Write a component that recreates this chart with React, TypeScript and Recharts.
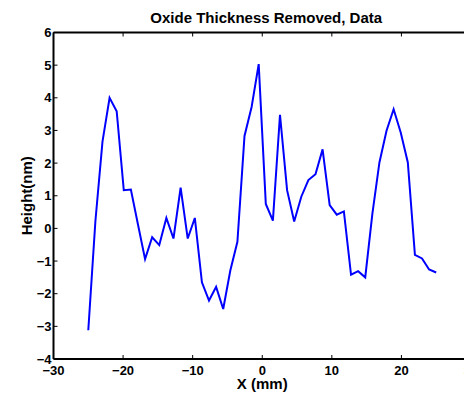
import { LineChart, Line, XAxis, YAxis } from "recharts";

// profile sampled on 50 evenly spaced positions between -25 and 25 mm
const xPositions = [
  -25, -23.98, -22.96, -21.94, -20.92, -19.9, -18.88, -17.86, -16.84, -15.82,
  -14.8, -13.78, -12.76, -11.73, -10.71, -9.69, -8.67, -7.65, -6.63, -5.61,
  -4.59, -3.57, -2.55, -1.53, -0.51, 0.51, 1.53, 2.55, 3.57, 4.59,
  5.61, 6.63, 7.65, 8.67, 9.69, 10.71, 11.73, 12.76, 13.78, 14.8,
  15.82, 16.84, 17.86, 18.88, 19.9, 20.92, 21.94, 22.96, 23.98, 25,
];

const heights = [
  -3.12, 0.22, 2.66, 4.0, 3.59, 1.17, 1.19, 0.12, -0.94, -0.27,
  -0.51, 0.32, -0.31, 1.25, -0.31, 0.32, -1.65, -2.21, -1.79, -2.47,
  -1.29, -0.41, 2.83, 3.72, 5.03, 0.75, 0.24, 3.48, 1.17, 0.21,
  0.97, 1.48, 1.66, 2.42, 0.71, 0.42, 0.52, -1.42, -1.31, -1.5,
  0.44, 2.02, 2.99, 3.65, 2.94, 2.02, -0.81, -0.92, -1.26, -1.35,
];

const xTicks = [-30, -20, -10, 0, 10, 20, 30];
const yTicks = [-4, -3, -2, -1, 0, 1, 2, 3, 4, 5, 6];

const chartTitle = "Oxide Thickness Removed, Data";
const xLabel = "X (mm)";
const yLabel = "Height(nm)";

const data = xPositions.map((x, i) => ({ x, height: heights[i] }));

const FONT = '"Liberation Sans", Arial, Helvetica, sans-serif';
const X_TICK_GAP = 16;
const Y_TICK_GAP = 2;
const TICK_LEN = 4;

const fmt = (v: number) => (v < 0 ? `\u2212${Math.abs(v)}` : `${v}`);

// matlab-style ticks: short marks pointing into the plot box
function BottomTick(props: any) {
  const { x, y, payload } = props;
  const axisY = y - X_TICK_GAP;
  return (
    <g>
      <line x1={x} x2={x} y1={axisY} y2={axisY - TICK_LEN} stroke="#000" strokeWidth={1} />
      <text x={x} y={y} textAnchor="middle" fontSize={13} fontWeight="bold" fill="#000">
        {fmt(payload.value)}
      </text>
    </g>
  );
}

function TopTick(props: any) {
  const { x, y } = props;
  return <line x1={x} x2={x} y1={y} y2={y + TICK_LEN} stroke="#000" strokeWidth={1} />;
}

function LeftTick(props: any) {
  const { x, y, payload } = props;
  const axisX = x + Y_TICK_GAP;
  return (
    <g>
      <line x1={axisX} x2={axisX + TICK_LEN} y1={y} y2={y} stroke="#000" strokeWidth={1} />
      <text x={x} y={y + 4.6} textAnchor="end" fontSize={13} fontWeight="bold" fill="#000">
        {fmt(payload.value)}
      </text>
    </g>
  );
}

export default function App() {
  return (
    <div
      style={{
        position: "fixed",
        left: 0,
        top: 0,
        width: 464,
        height: 393,
        overflow: "hidden",
        background: "#fff",
      }}
    >
      <LineChart
        width={500}
        height={393}
        data={data}
        margin={{ top: 31.5, right: 29, bottom: 0, left: 0 }}
        style={{ fontFamily: FONT }}
      >
        <XAxis
          dataKey="x"
          type="number"
          domain={[-30, 30]}
          ticks={xTicks}
          allowDataOverflow
          height={34}
          tickSize={0}
          tickMargin={X_TICK_GAP}
          tickLine={false}
          tick={(p: any) => <BottomTick {...p} />}
          axisLine={{ stroke: "#000", strokeWidth: 2 }}
          label={{
            value: xLabel,
            position: "insideBottom",
            offset: 4,
            fill: "#000",
            fontSize: 15,
            fontWeight: "bold",
          }}
        />
        <XAxis
          xAxisId="top"
          orientation="top"
          dataKey="x"
          type="number"
          domain={[-30, 30]}
          ticks={xTicks}
          allowDataOverflow
          height={1}
          tickSize={0}
          tickMargin={0}
          tickLine={false}
          tick={(p: any) => <TopTick {...p} />}
          axisLine={{ stroke: "#000", strokeWidth: 2 }}
          label={{
            value: chartTitle,
            position: "top",
            offset: 9,
            dx: 4,
            fill: "#000",
            fontSize: 15,
            fontWeight: "bold",
          }}
        />
        <YAxis
          type="number"
          domain={[-4, 6]}
          ticks={yTicks}
          allowDataOverflow
          width={53.5}
          tickSize={0}
          tickMargin={Y_TICK_GAP}
          tickLine={false}
          tick={(p: any) => <LeftTick {...p} />}
          axisLine={{ stroke: "#000", strokeWidth: 2 }}
          label={{
            value: yLabel,
            angle: -90,
            position: "insideLeft",
            offset: 27,
            fill: "#000",
            fontSize: 15,
            fontWeight: "bold",
            style: { textAnchor: "middle" },
          }}
        />
        <Line
          type="linear"
          dataKey="height"
          stroke="#0000ff"
          strokeWidth={2}
          dot={false}
          isAnimationActive={false}
        />
      </LineChart>
    </div>
  );
}
